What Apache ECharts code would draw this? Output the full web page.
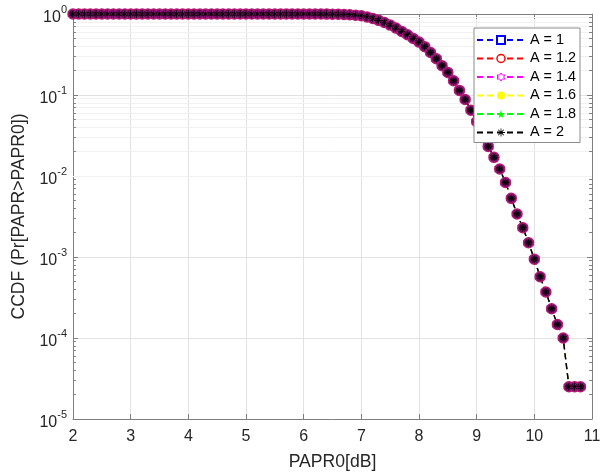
<!DOCTYPE html>
<html>
<head>
<meta charset="utf-8">
<script src="https://cdn.jsdelivr.net/npm/echarts@6/dist/echarts.min.js"></script>
<style>
html, body { margin: 0; padding: 0; background: #fff; }
#chart { width: 611px; height: 476px; }
</style>
</head>
<body>
<div id="chart"></div>
<script>
// PAPR threshold in dB (x) and the CCDF (y)
var papr0 = [
  2.0, 2.1, 2.2, 2.3, 2.4, 2.5, 2.6, 2.7, 2.8, 2.9,
  3.0, 3.1, 3.2, 3.3, 3.4, 3.5, 3.6, 3.7, 3.8, 3.9,
  4.0, 4.1, 4.2, 4.3, 4.4, 4.5, 4.6, 4.7, 4.8, 4.9,
  5.0, 5.1, 5.2, 5.3, 5.4, 5.5, 5.6, 5.7, 5.8, 5.9,
  6.0, 6.1, 6.2, 6.3, 6.4, 6.5, 6.6, 6.7, 6.8, 6.9,
  7.0, 7.1, 7.2, 7.3, 7.4, 7.5, 7.6, 7.7, 7.8, 7.9,
  8.0, 8.1, 8.2, 8.3, 8.4, 8.5, 8.6, 8.7, 8.8, 8.9,
  9.0, 9.1, 9.2, 9.3, 9.4, 9.5, 9.6, 9.7, 9.8, 9.9,
  10.0, 10.1, 10.2, 10.3, 10.4, 10.5, 10.6, 10.7, 10.8
];
var ccdf = [
  1, 1, 1, 1, 1, 1, 1, 1, 1, 1,
  1, 1, 1, 1, 1, 1, 1, 1, 1, 1,
  1, 1, 1, 1, 1, 1, 1, 1, 1, 1,
  1, 1, 1, 1, 1, 1, 1, 1, 1, 1,
  1, 1, 1, 0.999, 0.998, 0.996, 0.993, 0.988, 0.98, 0.968,
  0.95, 0.92, 0.88, 0.835, 0.785, 0.73, 0.67, 0.61, 0.555, 0.5,
  0.45, 0.395, 0.335, 0.28, 0.23, 0.19, 0.15, 0.114, 0.088, 0.065,
  0.047, 0.033, 0.0232, 0.017, 0.0122, 0.0083, 0.0053, 0.0034, 0.0023, 0.0015,
  0.00094, 0.00057, 0.00037, 0.00023, 0.000147, 0.0001, 0.000025, 0.000025, 0.000025
];
var seriesNames = ['A = 1', 'A = 1.2', 'A = 1.4', 'A = 1.6', 'A = 1.8', 'A = 2'];
var seriesColors = ['#0000ff', '#ff0000', '#ff00ff', '#ffff00', '#00ff00', '#000000'];

var FONT = '"Liberation Sans", Arial, sans-serif';
var TXT = '#262626';

var hexagram = 'path://M0,-5L1.443,-2.5L4.33,-2.5L2.887,0L4.33,2.5L1.443,2.5L0,5L-1.443,2.5L-4.33,2.5L-2.887,0L-4.33,-2.5L-1.443,-2.5Z';
var pentagram = 'path://M0,-5L1.176,-1.618L4.755,-1.545L1.902,0.618L2.939,4.045L0,2L-2.939,4.045L-1.902,0.618L-4.755,-1.545L-1.176,-1.618Z';
var asterisk = 'path://M-0.5,-5L0.5,-5L0.5,5L-0.5,5Z M-5,-0.5L5,-0.5L5,0.5L-5,0.5Z ' +
  'M-3.15,-3.85L3.85,3.15L3.15,3.85L-3.85,-3.15Z M3.85,-3.15L-3.15,3.85L-3.85,3.15L3.15,-3.85Z';

var pts = papr0.map(function (x, i) { return [x, ccdf[i]]; });

// minor log grid (2..9 x 10^k) plus short inside minor ticks on both sides
var minorVals = [];
for (var k = -5; k < 0; k++) {
  for (var m = 2; m <= 9; m++) minorVals.push(m * Math.pow(10, k));
}
var minorLines = minorVals.map(function (v) {
  return { yAxis: v, lineStyle: { color: '#f1f1f1', width: 1, type: 'solid' } };
});
minorVals.forEach(function (v) {
  minorLines.push([{ coord: [2, v] }, { coord: [2.05, v] }]);
  minorLines.push([{ coord: [10.95, v] }, { coord: [11, v] }]);
});

function lineSeries(i, extra) {
  var s = {
    name: seriesNames[i],
    type: 'line',
    data: pts,
    clip: false,
    z: 3,
    lineStyle: { type: [6, 4], width: 1, color: seriesColors[i] },
    itemStyle: { color: seriesColors[i] },
    showSymbol: false,
    emphasis: { disabled: true }
  };
  for (var key in extra) s[key] = extra[key];
  return s;
}

var series = [
  {
    name: 'grid',
    type: 'line',
    data: [],
    z: 1,
    silent: true,
    markLine: {
      z: 1,
      silent: true,
      symbol: ['none', 'none'],
      label: { show: false },
      animation: false,
      lineStyle: { color: '#7f7f7f', width: 1, type: 'solid' },
      data: minorLines
    }
  },
  lineSeries(0, { symbol: 'emptyRect' }),
  lineSeries(1, {
    symbol: 'circle', symbolSize: 10, showSymbol: true,
    itemStyle: { color: '#350a30', borderColor: '#b81a6e', borderWidth: 1.5 }
  }),
  lineSeries(2, {
    symbol: hexagram, symbolSize: 10, showSymbol: true,
    itemStyle: { color: 'rgba(0,0,0,0)', borderColor: '#a0188c', borderWidth: 0.8 }
  }),
  lineSeries(3, { symbol: 'circle' }),
  lineSeries(4, { symbol: pentagram }),
  lineSeries(5, {
    symbol: asterisk, symbolSize: 7, showSymbol: true,
    lineStyle: { type: [6, 4], width: 1.5, color: '#000' },
    itemStyle: { color: '#000' }
  })
];

var legendData = [
  { name: 'A = 1' },
  { name: 'A = 1.2', itemStyle: { color: '#fff', borderColor: '#ff0000', borderWidth: 1.5 } },
  { name: 'A = 1.4', itemStyle: { color: '#fff', borderColor: '#ff00ff', borderWidth: 1 } },
  { name: 'A = 1.6', itemStyle: { color: '#ffff00', borderWidth: 0 } },
  { name: 'A = 1.8', itemStyle: { color: '#00ff00', borderWidth: 0 } },
  { name: 'A = 2', itemStyle: { color: '#000', borderWidth: 0 } }
];

var chart = echarts.init(document.getElementById('chart'), null, { renderer: 'canvas' });
chart.setOption({
  animation: false,
  backgroundColor: '#fff',
  textStyle: { fontFamily: FONT },
  grid: { left: 73, right: 19, top: 14, bottom: 51, containLabel: false },
  legend: {
    orient: 'vertical',
    left: 474,
    top: 28,
    itemWidth: 48,
    itemHeight: 10,
    itemGap: 4.5,
    padding: [5, 4, 3, 2],
    backgroundColor: '#fff',
    borderColor: '#8c8c8c',
    borderWidth: 1,
    selectedMode: false,
    textStyle: { fontSize: 14.4, color: '#000', fontFamily: FONT },
    data: legendData
  },
  xAxis: [
    {
      type: 'value', min: 2, max: 11, interval: 1, position: 'bottom',
      axisLine: { onZero: false, lineStyle: { color: '#7f7f7f', width: 1 } },
      axisTick: { inside: true, length: 5, lineStyle: { color: '#7f7f7f' } },
      splitLine: { show: true, lineStyle: { color: '#e2e2e2', width: 1 } },
      axisLabel: { fontSize: 16, color: TXT, margin: 10, fontFamily: FONT },
      name: 'PAPR0[dB]', nameLocation: 'middle', nameGap: 34,
      nameTextStyle: { fontSize: 17.6, color: TXT, fontFamily: FONT }
    },
    {
      type: 'value', min: 2, max: 11, interval: 1, position: 'top',
      axisLine: { onZero: false, lineStyle: { color: '#7f7f7f', width: 1 } },
      axisTick: { inside: true, length: 5, lineStyle: { color: '#7f7f7f' } },
      splitLine: { show: false },
      axisLabel: { show: false }
    }
  ],
  yAxis: [
    {
      type: 'log', logBase: 10, min: 1e-5, max: 1, position: 'left',
      axisLine: { onZero: false, lineStyle: { color: '#7f7f7f', width: 1 } },
      axisTick: { inside: true, length: 5, lineStyle: { color: '#7f7f7f' } },
      splitLine: { show: true, lineStyle: { color: '#e2e2e2', width: 1 } },
      axisLabel: {
        margin: 6,
        color: TXT,
        fontFamily: FONT,
        formatter: function (v) {
          return '{b|10}{s|' + Math.round(Math.log10(v)) + '}';
        },
        rich: {
          b: { fontSize: 16, color: TXT, fontFamily: FONT, padding: [8, 0, 0, 0] },
          s: { fontSize: 11, color: TXT, fontFamily: FONT, padding: [0, 0, 8, 0] }
        }
      },
      name: 'CCDF (Pr[PAPR>PAPR0])', nameLocation: 'middle', nameGap: 39,
      nameTextStyle: { fontSize: 17.6, color: TXT, fontFamily: FONT }
    },
    {
      type: 'log', logBase: 10, min: 1e-5, max: 1, position: 'right',
      axisLine: { onZero: false, lineStyle: { color: '#7f7f7f', width: 1 } },
      axisTick: { inside: true, length: 5, lineStyle: { color: '#7f7f7f' } },
      splitLine: { show: false },
      axisLabel: { show: false }
    }
  ],
  series: series
});
</script>
</body>
</html>
